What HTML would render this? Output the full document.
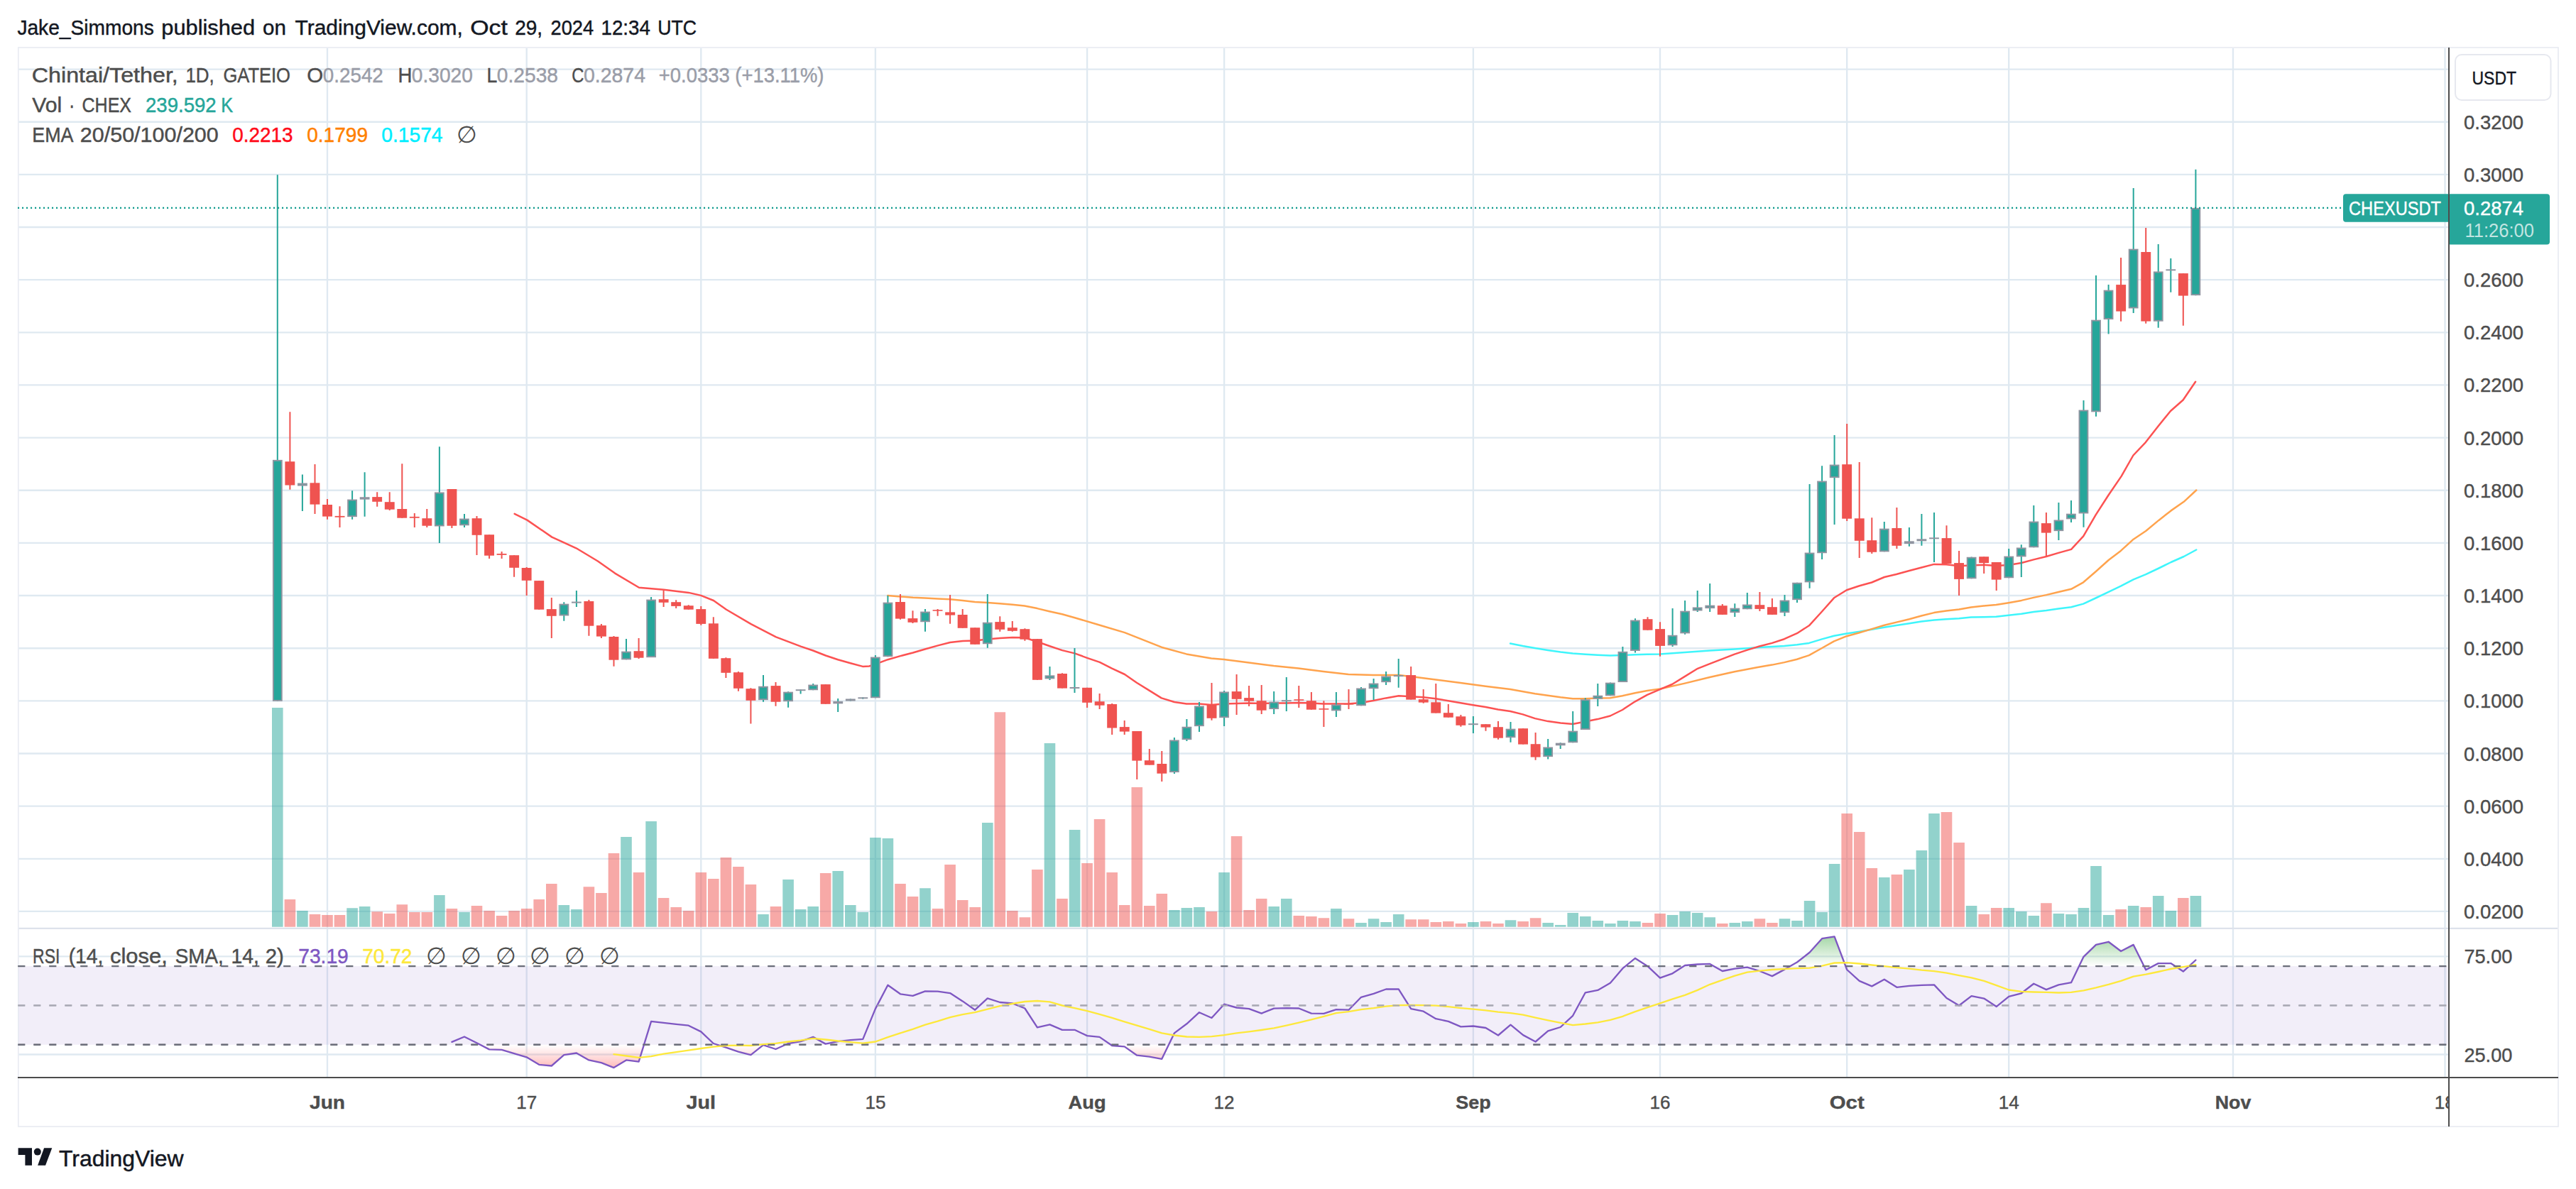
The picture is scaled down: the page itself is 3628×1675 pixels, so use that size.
<!DOCTYPE html>
<html lang="en"><head><meta charset="utf-8"><title>CHEXUSDT chart</title>
<style>
html,body{margin:0;padding:0;background:#fff;}
body{width:3628px;height:1675px;overflow:hidden;font-family:"Liberation Sans", sans-serif;}
svg{display:block}
text{font-family:"Liberation Sans", sans-serif;}
.ax{font-size:27px;fill:#4d4d4d;stroke:#4d4d4d;stroke-width:0.4px}
.lg{font-size:27.5px;fill:#4d4d4d}
</style></head><body>
<svg width="3628" height="1675" viewBox="0 0 3628 1675">
<rect width="3628" height="1675" fill="#fff"/>

<text y="49" font-size="30" fill="#131722" stroke="#131722" stroke-width="0.45"><tspan x="24.4" textLength="192.4" lengthAdjust="spacingAndGlyphs">Jake_Simmons</tspan> <tspan x="227.3" textLength="131.8" lengthAdjust="spacingAndGlyphs">published</tspan> <tspan x="370.1" textLength="32.9" lengthAdjust="spacingAndGlyphs">on</tspan> <tspan x="415.5" textLength="236.3" lengthAdjust="spacingAndGlyphs">TradingView.com,</tspan> <tspan x="662.2" textLength="52.6" lengthAdjust="spacingAndGlyphs">Oct</tspan> <tspan x="725.2" textLength="38.9" lengthAdjust="spacingAndGlyphs">29,</tspan> <tspan x="775.5" textLength="60.6" lengthAdjust="spacingAndGlyphs">2024</tspan> <tspan x="846.5" textLength="69.3" lengthAdjust="spacingAndGlyphs">12:34</tspan> <tspan x="926.2" textLength="54.9" lengthAdjust="spacingAndGlyphs">UTC</tspan></text>
<rect x="25.8" y="67" width="3577.2" height="1520" fill="#fff" stroke="#e9ecf3" stroke-width="1.7"/>
<g stroke="#dfe9f1" stroke-width="2.35" fill="none">
<path d="M26.5 97.6H3448"/>
<path d="M26.5 171.7H3448"/>
<path d="M26.5 245.8H3448"/>
<path d="M26.5 320.0H3448"/>
<path d="M26.5 394.1H3448"/>
<path d="M26.5 468.3H3448"/>
<path d="M26.5 542.4H3448"/>
<path d="M26.5 616.6H3448"/>
<path d="M26.5 690.7H3448"/>
<path d="M26.5 764.9H3448"/>
<path d="M26.5 839.0H3448"/>
<path d="M26.5 913.2H3448"/>
<path d="M26.5 987.3H3448"/>
<path d="M26.5 1061.5H3448"/>
<path d="M26.5 1135.6H3448"/>
<path d="M26.5 1209.8H3448"/>
<path d="M26.5 1283.9H3448"/>
<path d="M26.5 1347.3H3448"/>
<path d="M26.5 1485.5H3448"/>
<path d="M461.0 68V1517"/>
<path d="M741.7 68V1517"/>
<path d="M987.3 68V1517"/>
<path d="M1232.9 68V1517"/>
<path d="M1531.1 68V1517"/>
<path d="M1724.1 68V1517"/>
<path d="M2074.9 68V1517"/>
<path d="M2338.0 68V1517"/>
<path d="M2601.2 68V1517"/>
<path d="M2829.2 68V1517"/>
<path d="M3145.0 68V1517"/>
<path d="M3443.5 68V1517"/>
</g>
<path d="M26.5 1307.9H3602" stroke="#dde2eb" stroke-width="2.4"/>
<defs><linearGradient id="gob" gradientUnits="userSpaceOnUse" x1="0" y1="1361.1" x2="0" y2="1278.2"><stop offset="0" stop-color="#4caf50" stop-opacity="0"/><stop offset="1" stop-color="#4caf50" stop-opacity="1"/></linearGradient><linearGradient id="gos" gradientUnits="userSpaceOnUse" x1="0" y1="1471.7" x2="0" y2="1554.7"><stop offset="0" stop-color="#ff5252" stop-opacity="0"/><stop offset="1" stop-color="#ff5252" stop-opacity="1"/></linearGradient><clipPath id="cob"><rect x="25" y="1309" width="3421" height="52.1"/></clipPath><clipPath id="cos"><rect x="25" y="1471.7" width="3421" height="45.3"/></clipPath></defs>
<rect x="26.5" y="1361.1" width="3421" height="110.6" fill="#7e57c2" fill-opacity="0.1"/>
<path d="M636.4 1467.9L654 1460.5L671.5 1469.2L689.1 1478.4L706.6 1478.8L724.1 1484.1L741.7 1489.3L759.2 1499.8L776.8 1501.5L794.3 1486.1L811.9 1483.5L829.4 1493.4L846.9 1497.2L864.5 1504.1L882 1493.4L899.6 1495.6L917.1 1438.9L934.6 1440.9L952.2 1442.9L969.7 1444.7L987.3 1453.4L1004.8 1470L1022.4 1475.6L1039.9 1481.7L1057.4 1486.1L1075 1472.2L1092.5 1478L1110.1 1470L1127.6 1467.1L1145.2 1460.9L1162.7 1470.6L1180.2 1467.1L1197.8 1465.1L1215.3 1463.9L1232.9 1421.1L1250.4 1387.8L1268 1400.3L1285.5 1402.9L1303 1396.3L1320.6 1396.7L1338.1 1399.1L1355.7 1410.4L1373.2 1422.7L1390.8 1406.4L1408.3 1412L1425.8 1413.4L1443.4 1420.5L1460.9 1447.4L1478.5 1443.3L1496 1450.8L1513.5 1450.8L1531.1 1459.1L1548.6 1460.9L1566.2 1473L1583.7 1474.4L1601.3 1486.7L1618.8 1488.7L1636.3 1491.8L1653.9 1455.4L1671.4 1442.3L1689 1426.2L1706.5 1434L1724.1 1414.7L1741.6 1419.5L1759.1 1421.1L1776.7 1427.6L1794.2 1420.7L1811.8 1420.1L1829.3 1420.5L1846.9 1427.6L1864.4 1427.8L1881.9 1422.1L1899.5 1422.7L1917 1404.8L1934.6 1399.9L1952.1 1393.5L1969.7 1393.3L1987.2 1421.1L2004.7 1424.7L2022.3 1435.2L2039.8 1438.9L2057.4 1446.3L2074.9 1445.5L2092.5 1448L2110 1458.5L2127.5 1443.7L2145.1 1458.1L2162.6 1467.5L2180.2 1452.4L2197.7 1447L2215.2 1430.8L2232.8 1398.3L2250.3 1394.9L2267.9 1384.8L2285.4 1364.2L2303 1349.9L2320.5 1361.2L2338 1377.7L2355.6 1371.3L2373.1 1360L2390.7 1358.5L2408.2 1357.9L2425.8 1368L2443.3 1364.6L2460.8 1362.6L2478.4 1368L2495.9 1375.1L2513.5 1365.6L2531 1355.5L2548.6 1341.8L2566.1 1322.2L2583.6 1319.4L2601.2 1366L2618.7 1381.8L2636.3 1389.4L2653.8 1379.7L2671.4 1390.8L2688.9 1388.8L2706.4 1387.8L2724 1387.4L2741.5 1406L2759.1 1416.5L2776.6 1403.1L2794.2 1406.6L2811.7 1418.1L2829.2 1403.8L2846.8 1399.3L2864.3 1385.8L2881.9 1394.1L2899.4 1387.4L2917 1384.2L2934.5 1347.8L2952 1330.9L2969.6 1326.8L2987.1 1340L3004.7 1330.9L3022.2 1366.2L3039.7 1357.1L3057.3 1357.1L3074.8 1368.6L3092.4 1352.5L3092.4 1361.1L636.4 1361.1z" fill="url(#gob)" clip-path="url(#cob)"/>
<path d="M636.4 1467.9L654 1460.5L671.5 1469.2L689.1 1478.4L706.6 1478.8L724.1 1484.1L741.7 1489.3L759.2 1499.8L776.8 1501.5L794.3 1486.1L811.9 1483.5L829.4 1493.4L846.9 1497.2L864.5 1504.1L882 1493.4L899.6 1495.6L917.1 1438.9L934.6 1440.9L952.2 1442.9L969.7 1444.7L987.3 1453.4L1004.8 1470L1022.4 1475.6L1039.9 1481.7L1057.4 1486.1L1075 1472.2L1092.5 1478L1110.1 1470L1127.6 1467.1L1145.2 1460.9L1162.7 1470.6L1180.2 1467.1L1197.8 1465.1L1215.3 1463.9L1232.9 1421.1L1250.4 1387.8L1268 1400.3L1285.5 1402.9L1303 1396.3L1320.6 1396.7L1338.1 1399.1L1355.7 1410.4L1373.2 1422.7L1390.8 1406.4L1408.3 1412L1425.8 1413.4L1443.4 1420.5L1460.9 1447.4L1478.5 1443.3L1496 1450.8L1513.5 1450.8L1531.1 1459.1L1548.6 1460.9L1566.2 1473L1583.7 1474.4L1601.3 1486.7L1618.8 1488.7L1636.3 1491.8L1653.9 1455.4L1671.4 1442.3L1689 1426.2L1706.5 1434L1724.1 1414.7L1741.6 1419.5L1759.1 1421.1L1776.7 1427.6L1794.2 1420.7L1811.8 1420.1L1829.3 1420.5L1846.9 1427.6L1864.4 1427.8L1881.9 1422.1L1899.5 1422.7L1917 1404.8L1934.6 1399.9L1952.1 1393.5L1969.7 1393.3L1987.2 1421.1L2004.7 1424.7L2022.3 1435.2L2039.8 1438.9L2057.4 1446.3L2074.9 1445.5L2092.5 1448L2110 1458.5L2127.5 1443.7L2145.1 1458.1L2162.6 1467.5L2180.2 1452.4L2197.7 1447L2215.2 1430.8L2232.8 1398.3L2250.3 1394.9L2267.9 1384.8L2285.4 1364.2L2303 1349.9L2320.5 1361.2L2338 1377.7L2355.6 1371.3L2373.1 1360L2390.7 1358.5L2408.2 1357.9L2425.8 1368L2443.3 1364.6L2460.8 1362.6L2478.4 1368L2495.9 1375.1L2513.5 1365.6L2531 1355.5L2548.6 1341.8L2566.1 1322.2L2583.6 1319.4L2601.2 1366L2618.7 1381.8L2636.3 1389.4L2653.8 1379.7L2671.4 1390.8L2688.9 1388.8L2706.4 1387.8L2724 1387.4L2741.5 1406L2759.1 1416.5L2776.6 1403.1L2794.2 1406.6L2811.7 1418.1L2829.2 1403.8L2846.8 1399.3L2864.3 1385.8L2881.9 1394.1L2899.4 1387.4L2917 1384.2L2934.5 1347.8L2952 1330.9L2969.6 1326.8L2987.1 1340L3004.7 1330.9L3022.2 1366.2L3039.7 1357.1L3057.3 1357.1L3074.8 1368.6L3092.4 1352.5L3092.4 1471.7L636.4 1471.7z" fill="url(#gos)" clip-path="url(#cos)"/>
<g stroke-width="2.2" stroke-dasharray="10 12" fill="none"><path d="M25.4 1361.1H3446M25.4 1471.7H3446" stroke="#6e707a"/><path d="M25.4 1416.4H3446" stroke="#a9a9b4"/></g>
<g fill="none" stroke-width="2.35" stroke-linejoin="round" stroke-linecap="round"><path d="M636.4 1467.9L654 1460.5L671.5 1469.2L689.1 1478.4L706.6 1478.8L724.1 1484.1L741.7 1489.3L759.2 1499.8L776.8 1501.5L794.3 1486.1L811.9 1483.5L829.4 1493.4L846.9 1497.2L864.5 1504.1L882 1493.4L899.6 1495.6L917.1 1438.9L934.6 1440.9L952.2 1442.9L969.7 1444.7L987.3 1453.4L1004.8 1470L1022.4 1475.6L1039.9 1481.7L1057.4 1486.1L1075 1472.2L1092.5 1478L1110.1 1470L1127.6 1467.1L1145.2 1460.9L1162.7 1470.6L1180.2 1467.1L1197.8 1465.1L1215.3 1463.9L1232.9 1421.1L1250.4 1387.8L1268 1400.3L1285.5 1402.9L1303 1396.3L1320.6 1396.7L1338.1 1399.1L1355.7 1410.4L1373.2 1422.7L1390.8 1406.4L1408.3 1412L1425.8 1413.4L1443.4 1420.5L1460.9 1447.4L1478.5 1443.3L1496 1450.8L1513.5 1450.8L1531.1 1459.1L1548.6 1460.9L1566.2 1473L1583.7 1474.4L1601.3 1486.7L1618.8 1488.7L1636.3 1491.8L1653.9 1455.4L1671.4 1442.3L1689 1426.2L1706.5 1434L1724.1 1414.7L1741.6 1419.5L1759.1 1421.1L1776.7 1427.6L1794.2 1420.7L1811.8 1420.1L1829.3 1420.5L1846.9 1427.6L1864.4 1427.8L1881.9 1422.1L1899.5 1422.7L1917 1404.8L1934.6 1399.9L1952.1 1393.5L1969.7 1393.3L1987.2 1421.1L2004.7 1424.7L2022.3 1435.2L2039.8 1438.9L2057.4 1446.3L2074.9 1445.5L2092.5 1448L2110 1458.5L2127.5 1443.7L2145.1 1458.1L2162.6 1467.5L2180.2 1452.4L2197.7 1447L2215.2 1430.8L2232.8 1398.3L2250.3 1394.9L2267.9 1384.8L2285.4 1364.2L2303 1349.9L2320.5 1361.2L2338 1377.7L2355.6 1371.3L2373.1 1360L2390.7 1358.5L2408.2 1357.9L2425.8 1368L2443.3 1364.6L2460.8 1362.6L2478.4 1368L2495.9 1375.1L2513.5 1365.6L2531 1355.5L2548.6 1341.8L2566.1 1322.2L2583.6 1319.4L2601.2 1366L2618.7 1381.8L2636.3 1389.4L2653.8 1379.7L2671.4 1390.8L2688.9 1388.8L2706.4 1387.8L2724 1387.4L2741.5 1406L2759.1 1416.5L2776.6 1403.1L2794.2 1406.6L2811.7 1418.1L2829.2 1403.8L2846.8 1399.3L2864.3 1385.8L2881.9 1394.1L2899.4 1387.4L2917 1384.2L2934.5 1347.8L2952 1330.9L2969.6 1326.8L2987.1 1340L3004.7 1330.9L3022.2 1366.2L3039.7 1357.1L3057.3 1357.1L3074.8 1368.6L3092.4 1352.5" stroke="#7e57c2"/><path d="M864.5 1485.1L882 1487.5L899.6 1489.9L917.1 1488.1L934.6 1484.7L952.2 1482.1L969.7 1479.7L987.3 1477L1004.8 1474.6L1022.4 1473L1039.9 1472.6L1057.4 1473L1075 1471.2L1092.5 1469.8L1110.1 1467.5L1127.6 1465.7L1145.2 1462.9L1162.7 1464.5L1180.2 1466.5L1197.8 1468.1L1215.3 1469.6L1232.9 1467.5L1250.4 1461.1L1268 1455.4L1285.5 1449.8L1303 1443.7L1320.6 1438.7L1338.1 1433.2L1355.7 1429.2L1373.2 1426.2L1390.8 1421.7L1408.3 1417.1L1425.8 1414L1443.4 1411L1460.9 1410L1478.5 1411.4L1496 1416.5L1513.5 1420.1L1531.1 1424.1L1548.6 1428.8L1566.2 1433.8L1583.7 1439.3L1601.3 1444.7L1618.8 1449.8L1636.3 1455.4L1653.9 1458.5L1671.4 1460.5L1689 1460.9L1706.5 1460.1L1724.1 1458.1L1741.6 1455.4L1759.1 1453.4L1776.7 1451L1794.2 1448.4L1811.8 1444.7L1829.3 1440.7L1846.9 1436.3L1864.4 1431.8L1881.9 1427.2L1899.5 1425.2L1917 1422.1L1934.6 1420.1L1952.1 1417.7L1969.7 1416.1L1987.2 1415.9L2004.7 1416.1L2022.3 1416.7L2039.8 1418.1L2057.4 1420.1L2074.9 1421.7L2092.5 1423.3L2110 1425.6L2127.5 1427.2L2145.1 1429.6L2162.6 1433.6L2180.2 1437.3L2197.7 1440.9L2215.2 1444.1L2232.8 1442.5L2250.3 1440.3L2267.9 1436.9L2285.4 1431.8L2303 1425.2L2320.5 1419.1L2338 1413.4L2355.6 1407.4L2373.1 1401.9L2390.7 1394.9L2408.2 1386.8L2425.8 1380.7L2443.3 1374.7L2460.8 1369.6L2478.4 1367.6L2495.9 1366L2513.5 1365L2531 1364.2L2548.6 1363.6L2566.1 1360.6L2583.6 1356.5L2601.2 1356.1L2618.7 1357.5L2636.3 1359.5L2653.8 1361.2L2671.4 1363.2L2688.9 1364.6L2706.4 1366.6L2724 1368.2L2741.5 1370.6L2759.1 1374.1L2776.6 1377.3L2794.2 1381.8L2811.7 1388.2L2829.2 1394.5L2846.8 1396.9L2864.3 1397.5L2881.9 1397.9L2899.4 1398.5L2917 1397.9L2934.5 1395.3L2952 1391.4L2969.6 1386.8L2987.1 1381.8L3004.7 1375.7L3022.2 1372.7L3039.7 1369L3057.3 1365L3074.8 1362.2L3092.4 1359.1" stroke="#fde83b"/></g>
<g stroke-width="2" stroke-dasharray="9.6 12.4" fill="none"><path d="M25.4 1361.1H3446M25.4 1471.7H3446" stroke="#6a6d79"/><path d="M25.4 1416.4H3446" stroke="#a9a9b4"/></g>
<path d="M383 997.1h15.6V1305.7h-15.6zM418.1 1283.1h15.6V1305.7h-15.6zM488.3 1279.2h15.6V1305.7h-15.6zM505.8 1277h15.6V1305.7h-15.6zM611.1 1261.1h15.6V1305.7h-15.6zM646.2 1285.1h15.6V1305.7h-15.6zM786.5 1275h15.6V1305.7h-15.6zM804.1 1281h15.6V1305.7h-15.6zM874.2 1178.9h15.6V1305.7h-15.6zM909.3 1156.9h15.6V1305.7h-15.6zM1067.2 1288.1h15.6V1305.7h-15.6zM1102.3 1239.1h15.6V1305.7h-15.6zM1119.8 1281h15.6V1305.7h-15.6zM1137.4 1277h15.6V1305.7h-15.6zM1172.4 1227h15.6V1305.7h-15.6zM1190 1275h15.6V1305.7h-15.6zM1207.5 1285.1h15.6V1305.7h-15.6zM1225.1 1180.1h15.6V1305.7h-15.6zM1242.6 1181.1h15.6V1305.7h-15.6zM1295.2 1251.2h15.6V1305.7h-15.6zM1383 1158.9h15.6V1305.7h-15.6zM1470.7 1046.9h15.6V1305.7h-15.6zM1505.8 1169h15.6V1305.7h-15.6zM1646.1 1282.1h15.6V1305.7h-15.6zM1663.6 1279h15.6V1305.7h-15.6zM1681.2 1278h15.6V1305.7h-15.6zM1716.3 1229h15.6V1305.7h-15.6zM1786.4 1277h15.6V1305.7h-15.6zM1804 1266.1h15.6V1305.7h-15.6zM1874.1 1280h15.6V1305.7h-15.6zM1909.2 1300h15.6V1305.7h-15.6zM1926.8 1294.2h15.6V1305.7h-15.6zM1944.3 1299h15.6V1305.7h-15.6zM1961.9 1288.1h15.6V1305.7h-15.6zM2067.1 1299h15.6V1305.7h-15.6zM2119.7 1296.2h15.6V1305.7h-15.6zM2172.4 1300h15.6V1305.7h-15.6zM2189.9 1303.1h15.6V1305.7h-15.6zM2207.4 1286.1h15.6V1305.7h-15.6zM2225 1291.1h15.6V1305.7h-15.6zM2242.5 1297h15.6V1305.7h-15.6zM2260.1 1301h15.6V1305.7h-15.6zM2277.6 1297h15.6V1305.7h-15.6zM2295.2 1298h15.6V1305.7h-15.6zM2347.8 1289.1h15.6V1305.7h-15.6zM2365.3 1284.1h15.6V1305.7h-15.6zM2382.9 1286.1h15.6V1305.7h-15.6zM2400.4 1292.2h15.6V1305.7h-15.6zM2435.5 1300h15.6V1305.7h-15.6zM2453 1298h15.6V1305.7h-15.6zM2505.7 1294.2h15.6V1305.7h-15.6zM2523.2 1297h15.6V1305.7h-15.6zM2540.8 1269.1h15.6V1305.7h-15.6zM2558.3 1285.1h15.6V1305.7h-15.6zM2575.8 1217.1h15.6V1305.7h-15.6zM2646 1236h15.6V1305.7h-15.6zM2681.1 1224.9h15.6V1305.7h-15.6zM2698.6 1198.1h15.6V1305.7h-15.6zM2716.2 1146h15.6V1305.7h-15.6zM2768.8 1276h15.6V1305.7h-15.6zM2821.4 1279h15.6V1305.7h-15.6zM2839 1284.1h15.6V1305.7h-15.6zM2856.5 1290.1h15.6V1305.7h-15.6zM2891.6 1287.1h15.6V1305.7h-15.6zM2909.2 1288.1h15.6V1305.7h-15.6zM2926.7 1279h15.6V1305.7h-15.6zM2944.2 1220.1h15.6V1305.7h-15.6zM2961.8 1289.1h15.6V1305.7h-15.6zM2996.9 1276h15.6V1305.7h-15.6zM3031.9 1262.1h15.6V1305.7h-15.6zM3049.5 1283.1h15.6V1305.7h-15.6zM3084.6 1262.1h15.6V1305.7h-15.6z" fill="#26a69a" fill-opacity="0.5"/>
<path d="M400.6 1267.1h15.6V1305.7h-15.6zM435.7 1287.9h15.6V1305.7h-15.6zM453.2 1289.1h15.6V1305.7h-15.6zM470.7 1289.1h15.6V1305.7h-15.6zM523.4 1284.3h15.6V1305.7h-15.6zM540.9 1287.1h15.6V1305.7h-15.6zM558.5 1274.2h15.6V1305.7h-15.6zM576 1285.1h15.6V1305.7h-15.6zM593.5 1285.1h15.6V1305.7h-15.6zM628.6 1280h15.6V1305.7h-15.6zM663.7 1276h15.6V1305.7h-15.6zM681.3 1283.1h15.6V1305.7h-15.6zM698.8 1290.1h15.6V1305.7h-15.6zM716.3 1283.1h15.6V1305.7h-15.6zM733.9 1280h15.6V1305.7h-15.6zM751.4 1267.1h15.6V1305.7h-15.6zM769 1245.1h15.6V1305.7h-15.6zM821.6 1249.2h15.6V1305.7h-15.6zM839.1 1258h15.6V1305.7h-15.6zM856.7 1202.1h15.6V1305.7h-15.6zM891.8 1229h15.6V1305.7h-15.6zM926.8 1265.1h15.6V1305.7h-15.6zM944.4 1278h15.6V1305.7h-15.6zM961.9 1283.1h15.6V1305.7h-15.6zM979.5 1229h15.6V1305.7h-15.6zM997 1238.1h15.6V1305.7h-15.6zM1014.6 1208h15.6V1305.7h-15.6zM1032.1 1221.1h15.6V1305.7h-15.6zM1049.6 1246.1h15.6V1305.7h-15.6zM1084.7 1277h15.6V1305.7h-15.6zM1154.9 1230h15.6V1305.7h-15.6zM1260.2 1245.1h15.6V1305.7h-15.6zM1277.7 1263.1h15.6V1305.7h-15.6zM1312.8 1280h15.6V1305.7h-15.6zM1330.3 1218.1h15.6V1305.7h-15.6zM1347.9 1268.1h15.6V1305.7h-15.6zM1365.4 1278h15.6V1305.7h-15.6zM1400.5 1003.3h15.6V1305.7h-15.6zM1418 1283.1h15.6V1305.7h-15.6zM1435.6 1292.2h15.6V1305.7h-15.6zM1453.1 1224.9h15.6V1305.7h-15.6zM1488.2 1266.1h15.6V1305.7h-15.6zM1523.3 1216.1h15.6V1305.7h-15.6zM1540.8 1154.1h15.6V1305.7h-15.6zM1558.4 1229h15.6V1305.7h-15.6zM1575.9 1275h15.6V1305.7h-15.6zM1593.5 1109.1h15.6V1305.7h-15.6zM1611 1276h15.6V1305.7h-15.6zM1628.5 1259h15.6V1305.7h-15.6zM1698.7 1284.1h15.6V1305.7h-15.6zM1733.8 1178.1h15.6V1305.7h-15.6zM1751.3 1282.1h15.6V1305.7h-15.6zM1768.9 1266.1h15.6V1305.7h-15.6zM1821.5 1290.1h15.6V1305.7h-15.6zM1839.1 1291.1h15.6V1305.7h-15.6zM1856.6 1293.2h15.6V1305.7h-15.6zM1891.7 1294.2h15.6V1305.7h-15.6zM1979.4 1295.2h15.6V1305.7h-15.6zM1996.9 1295.2h15.6V1305.7h-15.6zM2014.5 1299h15.6V1305.7h-15.6zM2032 1298h15.6V1305.7h-15.6zM2049.6 1301h15.6V1305.7h-15.6zM2084.7 1298h15.6V1305.7h-15.6zM2102.2 1301h15.6V1305.7h-15.6zM2137.3 1298h15.6V1305.7h-15.6zM2154.8 1293.2h15.6V1305.7h-15.6zM2312.7 1300h15.6V1305.7h-15.6zM2330.2 1287.1h15.6V1305.7h-15.6zM2418 1301h15.6V1305.7h-15.6zM2470.6 1294.2h15.6V1305.7h-15.6zM2488.1 1300h15.6V1305.7h-15.6zM2593.4 1146h15.6V1305.7h-15.6zM2610.9 1172h15.6V1305.7h-15.6zM2628.5 1223.1h15.6V1305.7h-15.6zM2663.6 1232h15.6V1305.7h-15.6zM2733.7 1144h15.6V1305.7h-15.6zM2751.3 1187h15.6V1305.7h-15.6zM2786.4 1288.1h15.6V1305.7h-15.6zM2803.9 1279h15.6V1305.7h-15.6zM2874.1 1272.2h15.6V1305.7h-15.6zM2979.3 1281h15.6V1305.7h-15.6zM3014.4 1278h15.6V1305.7h-15.6zM3067 1265.1h15.6V1305.7h-15.6z" fill="#ef5350" fill-opacity="0.5"/>
<g fill="none" stroke-width="2.5" stroke-linejoin="round" stroke-linecap="round">
<path d="M2127.1 906.5L2144.7 910L2161.9 913L2180 916L2197.8 918.6L2215.1 920.4L2232.9 921.7L2250.1 922.7L2267.8 923.5L2285 923.1L2302.8 922.3L2319.9 921.7L2337.7 921.4L2372.9 919L2408 916.4L2442.9 914.4L2477.8 911.9L2513 909.9L2530.9 908.3L2547.9 905.9L2566 900.4L2583 895.8L2600.8 892.4L2618.9 889.7L2636.1 886.7L2653.9 883.7L2670.8 881.1L2689 878.2L2706.1 875.6L2723.9 873.6L2741.1 872.2L2759 871.2L2776 869.6L2793.7 869.3L2811.3 868.7L2828.8 866.7L2847 864.7L2864 862.1L2881.9 860.1L2899.1 857.6L2917.1 855.2L2934.2 850.6L2951.6 842.5L2969.7 833.8L2986.9 825.7L3004.7 816.3L3022.2 809.2L3040.4 800.5L3057.6 792L3075.7 784L3093.3 774.5" stroke="#3ff5fb"/>
<path d="M1250.3 839L1268.1 840.4L1285.8 841.8L1302.8 842.6L1321 843.4L1338.1 844.2L1355.9 846L1373 848L1391 849.1L1408 850.3L1425.9 851.7L1442.9 853.5L1460.8 857.1L1477.8 861.2L1496 865.2L1513.7 870.2L1546.6 880L1584 891.1L1635.8 911.7L1671 921.4L1706.1 927.4L1724 929.1L1759 933.5L1793.9 938.1L1828.8 941.6L1863.9 946L1899.1 950L1934.2 951.1L1969.9 951.1L1987 952.9L2022.2 957.4L2057.1 962L2092.2 966.7L2127.1 971.1L2161.9 977.2L2197.8 982.2L2215.1 984.2L2232.9 984.2L2250.1 983.6L2267.8 983.2L2285 980.2L2302.8 976.2L2319.9 973.1L2337.9 970.5L2373 962.6L2408.1 954L2442.8 946.3L2475.6 940L2495.8 936.6L2513 933.1L2530.9 928.7L2547.9 923.1L2566 913L2583 903.3L2600.8 896.2L2618.9 891.2L2636.1 886.1L2653.9 880.7L2670.8 876.6L2689 872.2L2706.1 867.5L2723.9 863.1L2741.1 860.5L2759 858.5L2776 855.4L2793.7 853.6L2811.3 852L2828.8 849.2L2847 845.9L2864 841.9L2881.9 838.1L2899.1 834L2917.1 829.8L2934.2 820.3L2951.6 805.2L2969.7 789L2986.9 775.9L3004.7 759.7L3022.2 748L3040.4 732.9L3057.6 719.4L3075.7 706.8L3093.3 690.5" stroke="#ffa34d"/>
<path d="M724.7 723.9L742.4 732.6L777.3 756.6L811.6 772.3L841.9 790.5L866.1 807.6L900 827.8L935.1 830.8L970 834.9L987.2 838.9L1005 846L1022.6 858.5L1057.7 879.1L1092.9 897.3L1127.8 910.6L1145.1 916.5L1162.9 923.5L1180.1 929.2L1197.8 934.2L1215 938.9L1224.1 938.5L1233.1 935.6L1250.3 929.2L1268.1 924.1L1285.8 919.5L1302.8 914.5L1321 909.4L1338.1 905L1355.9 902.9L1373 902.5L1391 900.5L1408 898.9L1425.9 897.9L1442.9 898.3L1460.8 904L1477.8 910L1496 916.1L1513.5 920.4L1531.1 926.8L1548.8 932.9L1566 941.6L1584 950L1600.9 961.8L1618.9 972.9L1635.8 983.4L1654 989L1671 991.6L1688.9 991.6L1706.1 993L1724 991.6L1742 991L1759 990.6L1776.9 991L1793.9 990.6L1811.9 990.4L1828.8 990L1846.8 990.6L1863.9 991.6L1881.9 991.6L1899.1 991.6L1917 990L1934.2 987L1951.9 983.4L1969.9 980.3L1987 981.2L2004.6 982.2L2022.2 984.2L2039.7 987.3L2057.1 990.3L2074.7 993.3L2092.2 995.9L2109.8 999.4L2127.1 1002L2144.7 1006.4L2161.9 1012.1L2180 1016.1L2197.8 1018.6L2215.1 1020L2232.9 1016.5L2250.1 1013.1L2267.8 1008.5L2285 1000L2302.8 988.3L2319.9 978.8L2337.9 971.1L2355 964L2373 952.9L2391 941.8L2408 935.2L2442.9 921.6L2460.9 915.6L2477.8 910.5L2495.8 905.9L2513 900.2L2530.9 892.2L2547.9 881.3L2566 861.5L2583 842.3L2600.8 831.2L2618.9 825.2L2636.1 820.5L2653.9 813L2670.8 809L2689 804L2706.1 799.5L2723.9 794.9L2741.1 795.3L2759 797.3L2776 796.5L2793.7 795.7L2811.3 797.1L2828.8 796.1L2847 793L2864 788.4L2881.9 784L2899.1 778.9L2917.1 773.9L2934.2 755.3L2951.6 725.4L2969.7 697.2L2987.7 670.9L3004.4 641.5L3021.9 623.1L3039.5 600.5L3057 579L3074.6 563.5L3092.1 537.7" stroke="#fc5252"/>
</g>
<path d="M390.8 246.3V987.8M425.9 668.4V719.9M496.1 691.2V731.8M513.6 665.2V727.7M618.9 629.2V764.9M654 724.1V742.9M794.3 848.2V874.8M811.9 832V855.1M882 900.1V929.3M917.1 841.1V926.1M1075 951V988.7M1110.1 974.2V996.8M1127.6 971.2V977.6M1145.2 963.1V972.2M1180.2 984.1V1002.9M1197.8 984.5V987.5M1215.3 982.3V984.7M1232.9 923.1V983.3M1250.4 839V925.2M1303 858.1V889.8M1390.8 837.1V912.8M1478.5 939.1V957.9M1513.5 912.9V975.9M1653.9 1039.1V1089.9M1671.4 1013V1043.9M1689 989V1031M1724.1 973.1V1023.1M1794.2 974.1V1006M1811.8 954.1V1001.9M1881.9 975.1V1010M1917 968V994.3M1934.6 956.1V986M1952.1 946V965M1969.7 928.1V968.7M2074.9 1009.1V1033.1M2127.5 1017.1V1045.8M2180.2 1041V1069.6M2197.7 1046.2V1054.9M2215.2 1002V1046.2M2232.8 983.2V1028M2250.3 963V994.9M2267.9 961.6V980.2M2285.4 911V961M2303 871.2V919.6M2355.6 857V910.9M2373.1 846.1V893.8M2390.7 832V861.9M2408.2 822.1V861.9M2443.3 850.2V869M2460.8 835V858.3M2513.5 838.1V867.9M2531 820.7V849M2548.6 682V828.8M2566.1 656.2V788M2583.6 613V739M2653.8 735.1V777.3M2688.9 743V769.8M2706.4 724V768.8M2724 722V792M2776.6 784.4V815.3M2829.2 773.1V814.2M2846.8 767.2V813M2864.3 712.1V771.2M2899.4 708.1V760.9M2917 705V735.9M2934.5 564.1V742.8M2952 387.9V586.7M2969.6 401.1V470.6M3004.7 265V441M3039.7 344.1V461.8M3057.3 364.1V411.7M3092.4 238.8V416.2" stroke="#26a69a" stroke-width="2" fill="none"/>
<path d="M408.4 580.2V689.8M443.5 654.1V723.9M461 703.1V731.8M478.5 713.2V742.9M531.2 693.2V713.8M548.7 693.2V718.9M566.3 653.3V729.8M583.8 723.1V742.9M601.3 717V742.9M636.4 689V743.9M671.5 727.1V782M689.1 753.2V786.9M706.6 777V786.9M724.1 782.2V812.7M741.7 799.1V838.9M759.2 818.1V858.7M776.8 842.1V898.9M829.4 845V895.8M846.9 879.1V898.9M864.5 896V938.8M899.6 899.1V927.9M934.6 831.8V855.1M952.2 845.2V856.9M969.7 852.2V858.7M987.3 854V880.7M1004.8 869.2V927.7M1022.4 926.2V955M1039.9 946.1V973.8M1057.4 969.2V1019.6M1092.5 961.1V994.8M1162.7 964.1V991.8M1268 837.1V872.7M1285.5 860.2V877.9M1320.6 858.1V867.8M1338.1 837.9V878.7M1355.7 858.1V884.8M1373.2 884.2V907.8M1408.3 868.2V889.8M1425.8 875.1V889.8M1443.4 885.2V902.7M1460.9 900.1V957.9M1496 948.2V969.6M1531.1 968.8V996.9M1548.6 977.1V998.9M1566.2 991V1035M1583.7 1015V1035M1601.3 1030V1098M1618.8 1055V1077.6M1636.3 1058V1101M1706.5 962V1014.8M1741.6 950V1007M1759.1 966V995.1M1776.7 965V1006M1829.3 966V996.9M1846.9 975.1V999.7M1864.4 987.2V1023.9M1899.5 971V998.9M1987.2 939V985.6M2004.7 971.1V990.7M2022.3 963V1004.6M2039.8 992.1V1010.7M2057.4 1007V1023.8M2092.5 1020.2V1029.7M2110 1016.1V1041.8M2145.1 1026.2V1048.6M2162.6 1032.1V1070.8M2320.5 869.2V887.7M2338 876.2V924.7M2425.8 851V865.9M2478.4 834V861.1M2495.9 843.1V865.9M2601.2 597V733.9M2618.7 651.1V786M2636.3 729.3V779.9M2671.4 714.9V772.9M2741.5 740.2V794.1M2759.1 776.1V838.9M2794.2 784.2V808M2811.7 792V832M2881.9 722V782.9M2987.1 363.1V452.7M3022.2 321.1V455.8M3074.8 385.1V458.8" stroke="#ef5350" stroke-width="2" fill="none"/>
<g fill="#26a69a" stroke="#9094a0" stroke-width="1.9"><rect x="384.9" y="648.8" width="11.9" height="338.1"/><rect x="420" y="681.5" width="11.9" height="2.1"/><rect x="490.1" y="704.5" width="11.9" height="22.7"/><rect x="507.7" y="701.2" width="11.9" height="1.5"/><rect x="612.9" y="694.4" width="11.9" height="46.1"/><rect x="648" y="731.5" width="11.9" height="7.8"/><rect x="788.4" y="851.6" width="11.9" height="14.9"/><rect x="876.1" y="918.6" width="11.9" height="9.8"/><rect x="911.2" y="845.5" width="11.9" height="79.7"/><rect x="1069" y="967.7" width="11.9" height="17.5"/><rect x="1104.1" y="975.6" width="11.9" height="11.6"/><rect x="1139.2" y="965.5" width="11.9" height="5.8"/><rect x="1174.3" y="988.9" width="11.9" height="1.5"/><rect x="1226.9" y="926.5" width="11.9" height="55.8"/><rect x="1244.5" y="849.6" width="11.9" height="74.6"/><rect x="1297.1" y="862.5" width="11.9" height="12.8"/><rect x="1384.8" y="877.7" width="11.9" height="28.6"/><rect x="1472.5" y="952.3" width="11.9" height="3.1"/><rect x="1647.9" y="1043.4" width="11.9" height="43.7"/><rect x="1665.5" y="1024.7" width="11.9" height="16.5"/><rect x="1683" y="995.4" width="11.9" height="26.8"/><rect x="1718.1" y="975.4" width="11.9" height="34.8"/><rect x="1788.3" y="989.5" width="11.9" height="8.6"/><rect x="1876" y="993.4" width="11.9" height="7"/><rect x="1911.1" y="970.4" width="11.9" height="22.9"/><rect x="1928.6" y="963.5" width="11.9" height="5.8"/><rect x="1946.2" y="953.4" width="11.9" height="6.8"/><rect x="2121.6" y="1027.6" width="11.9" height="10.6"/><rect x="2174.2" y="1053.4" width="11.9" height="11.8"/><rect x="2191.8" y="1047.6" width="11.9" height="1.7"/><rect x="2209.3" y="1030.6" width="11.9" height="14.7"/><rect x="2226.8" y="986.2" width="11.9" height="40.9"/><rect x="2244.4" y="980.7" width="11.9" height="3.1"/><rect x="2261.9" y="962.6" width="11.9" height="16.7"/><rect x="2279.5" y="918.8" width="11.9" height="41.3"/><rect x="2297" y="874.5" width="11.9" height="41.5"/><rect x="2349.6" y="895.7" width="11.9" height="12.6"/><rect x="2367.2" y="861.6" width="11.9" height="29.8"/><rect x="2384.7" y="856.4" width="11.9" height="3.1"/><rect x="2402.3" y="853.6" width="11.9" height="2.5"/><rect x="2437.4" y="857.6" width="11.9" height="4.6"/><rect x="2454.9" y="852.5" width="11.9" height="4.8"/><rect x="2507.5" y="846.5" width="11.9" height="15.7"/><rect x="2525.1" y="821.7" width="11.9" height="22.5"/><rect x="2542.6" y="779.5" width="11.9" height="39.9"/><rect x="2560.1" y="678.5" width="11.9" height="99.8"/><rect x="2577.7" y="655.5" width="11.9" height="16.7"/><rect x="2647.9" y="745.6" width="11.9" height="30.8"/><rect x="2682.9" y="763.3" width="11.9" height="1.9"/><rect x="2770.7" y="785.7" width="11.9" height="28.6"/><rect x="2823.3" y="784.5" width="11.9" height="28.8"/><rect x="2840.8" y="772.4" width="11.9" height="11"/><rect x="2858.4" y="735.5" width="11.9" height="34.8"/><rect x="2893.5" y="733.4" width="11.9" height="13.8"/><rect x="2911" y="724.6" width="11.9" height="5.8"/><rect x="2928.5" y="578.5" width="11.9" height="144"/><rect x="2946.1" y="451.6" width="11.9" height="127.8"/><rect x="2963.6" y="409.6" width="11.9" height="39.5"/><rect x="2998.7" y="351.6" width="11.9" height="81.9"/><rect x="3033.8" y="383.4" width="11.9" height="68.4"/><rect x="3086.4" y="293.8" width="11.9" height="121.4"/></g>
<g fill="#ef5350"><rect x="401.4" y="650.2" width="13.9" height="33.3"/><rect x="436.5" y="680.3" width="13.9" height="30.3"/><rect x="454.1" y="711" width="13.9" height="16.6"/><rect x="471.6" y="726.9" width="13.9" height="1.8"/><rect x="524.2" y="700.1" width="13.9" height="6.7"/><rect x="541.8" y="707.2" width="13.9" height="10.5"/><rect x="559.3" y="717" width="13.9" height="12.7"/><rect x="576.8" y="727.9" width="13.9" height="1.8"/><rect x="594.4" y="730.2" width="13.9" height="10.5"/><rect x="629.5" y="689" width="13.9" height="51.7"/><rect x="664.6" y="730.2" width="13.9" height="23.6"/><rect x="682.1" y="753.2" width="13.9" height="29.5"/><rect x="699.6" y="780" width="13.9" height="1.8"/><rect x="717.2" y="782.2" width="13.9" height="17.6"/><rect x="734.7" y="800" width="13.9" height="17.8"/><rect x="752.3" y="818.1" width="13.9" height="40.6"/><rect x="769.8" y="858.1" width="13.9" height="9.7"/><rect x="822.4" y="847" width="13.9" height="34.7"/><rect x="840" y="881.1" width="13.9" height="15.5"/><rect x="857.5" y="897" width="13.9" height="32.7"/><rect x="892.6" y="917.2" width="13.9" height="9.5"/><rect x="927.7" y="844.2" width="13.9" height="4.6"/><rect x="945.2" y="848.2" width="13.9" height="5.7"/><rect x="962.8" y="853.2" width="13.9" height="5.5"/><rect x="980.3" y="858.1" width="13.9" height="20.8"/><rect x="997.9" y="878.3" width="13.9" height="49.5"/><rect x="1015.4" y="927.2" width="13.9" height="20.6"/><rect x="1033" y="947.2" width="13.9" height="22.6"/><rect x="1050.5" y="970.2" width="13.9" height="16.6"/><rect x="1085.6" y="966.1" width="13.9" height="22.6"/><rect x="1155.8" y="964.1" width="13.9" height="27.7"/><rect x="1261" y="848" width="13.9" height="23.6"/><rect x="1278.5" y="871.1" width="13.9" height="5.7"/><rect x="1313.6" y="859.1" width="13.9" height="1.6"/><rect x="1331.2" y="862.4" width="13.9" height="4.2"/><rect x="1348.7" y="866" width="13.9" height="18.8"/><rect x="1366.3" y="884.2" width="13.9" height="23.6"/><rect x="1401.3" y="876.1" width="13.9" height="10.7"/><rect x="1418.9" y="884.2" width="13.9" height="4.6"/><rect x="1436.4" y="886.2" width="13.9" height="14.5"/><rect x="1454" y="900.1" width="13.9" height="57.7"/><rect x="1489.1" y="949" width="13.9" height="20.6"/><rect x="1524.1" y="968.8" width="13.9" height="21"/><rect x="1541.7" y="988.2" width="13.9" height="5.5"/><rect x="1559.2" y="992" width="13.9" height="33.5"/><rect x="1576.8" y="1024.1" width="13.9" height="6.5"/><rect x="1594.3" y="1030" width="13.9" height="41.6"/><rect x="1611.9" y="1071.2" width="13.9" height="6.5"/><rect x="1629.4" y="1076" width="13.9" height="13.7"/><rect x="1699.6" y="993" width="13.9" height="18.8"/><rect x="1734.7" y="974.1" width="13.9" height="10.7"/><rect x="1752.2" y="983.1" width="13.9" height="4.6"/><rect x="1769.7" y="987.2" width="13.9" height="13.5"/><rect x="1822.4" y="985.2" width="13.9" height="1.6"/><rect x="1839.9" y="987.2" width="13.9" height="12.5"/><rect x="1857.5" y="998.1" width="13.9" height="1.6"/><rect x="1892.5" y="991" width="13.9" height="1.6"/><rect x="1980.2" y="951.1" width="13.9" height="34.5"/><rect x="1997.8" y="985.2" width="13.9" height="4.4"/><rect x="2015.3" y="989.3" width="13.9" height="15.3"/><rect x="2032.9" y="1004.2" width="13.9" height="6.5"/><rect x="2050.4" y="1009.3" width="13.9" height="12.5"/><rect x="2085.5" y="1020.2" width="13.9" height="4.4"/><rect x="2103" y="1024.2" width="13.9" height="15.5"/><rect x="2138.1" y="1026.2" width="13.9" height="22.4"/><rect x="2155.7" y="1048.2" width="13.9" height="18.4"/><rect x="2313.6" y="872.2" width="13.9" height="15.5"/><rect x="2331.1" y="886.1" width="13.9" height="23.8"/><rect x="2418.8" y="853.2" width="13.9" height="12.7"/><rect x="2471.4" y="852.2" width="13.9" height="5.7"/><rect x="2489" y="855.2" width="13.9" height="10.7"/><rect x="2594.2" y="654.2" width="13.9" height="76.5"/><rect x="2611.8" y="730.3" width="13.9" height="31.5"/><rect x="2629.3" y="761.2" width="13.9" height="16.6"/><rect x="2664.4" y="744" width="13.9" height="24.8"/><rect x="2734.6" y="758.1" width="13.9" height="35.9"/><rect x="2752.1" y="793.1" width="13.9" height="22.8"/><rect x="2787.2" y="784.2" width="13.9" height="8.9"/><rect x="2804.7" y="792" width="13.9" height="24.6"/><rect x="2874.9" y="737.1" width="13.9" height="13.5"/><rect x="2980.2" y="401.1" width="13.9" height="37.5"/><rect x="3015.3" y="355" width="13.9" height="97.6"/><rect x="3067.9" y="385.1" width="13.9" height="31.5"/></g>
<g fill="#9094a0"><rect x="805" y="847.6" width="13.8" height="2"/><rect x="1120.7" y="971.2" width="13.8" height="2"/><rect x="1190.9" y="984.5" width="13.8" height="3"/><rect x="1208.4" y="982.3" width="13.8" height="2"/><rect x="1506.6" y="968" width="13.8" height="2"/><rect x="1804.9" y="986.2" width="13.8" height="2"/><rect x="1962.8" y="951.1" width="13.8" height="2"/><rect x="2068" y="1019.2" width="13.8" height="2"/><rect x="2699.5" y="759.3" width="13.8" height="3"/><rect x="2717.1" y="757.3" width="13.8" height="2"/><rect x="3050.4" y="379.3" width="13.8" height="2"/></g>
<path d="M25 292.9H3298" stroke="#0d9a8c" stroke-width="2.1" stroke-dasharray="2.1 3.9"/>
<path d="M3449 67V1587" stroke="#4c4c4c" stroke-width="2"/>
<path d="M25 1517.9H3603" stroke="#4c4c4c" stroke-width="2"/>
<g class="ax">
<text x="3470" y="181.7" textLength="84" lengthAdjust="spacingAndGlyphs">0.3200</text>
<text x="3470" y="255.8" textLength="84" lengthAdjust="spacingAndGlyphs">0.3000</text>
<text x="3470" y="404.1" textLength="84" lengthAdjust="spacingAndGlyphs">0.2600</text>
<text x="3470" y="478.3" textLength="84" lengthAdjust="spacingAndGlyphs">0.2400</text>
<text x="3470" y="552.4" textLength="84" lengthAdjust="spacingAndGlyphs">0.2200</text>
<text x="3470" y="626.6" textLength="84" lengthAdjust="spacingAndGlyphs">0.2000</text>
<text x="3470" y="700.7" textLength="84" lengthAdjust="spacingAndGlyphs">0.1800</text>
<text x="3470" y="774.9" textLength="84" lengthAdjust="spacingAndGlyphs">0.1600</text>
<text x="3470" y="849.0" textLength="84" lengthAdjust="spacingAndGlyphs">0.1400</text>
<text x="3470" y="923.2" textLength="84" lengthAdjust="spacingAndGlyphs">0.1200</text>
<text x="3470" y="997.3" textLength="84" lengthAdjust="spacingAndGlyphs">0.1000</text>
<text x="3470" y="1071.5" textLength="84" lengthAdjust="spacingAndGlyphs">0.0800</text>
<text x="3470" y="1145.6" textLength="84" lengthAdjust="spacingAndGlyphs">0.0600</text>
<text x="3470" y="1219.8" textLength="84" lengthAdjust="spacingAndGlyphs">0.0400</text>
<text x="3470" y="1293.9" textLength="84" lengthAdjust="spacingAndGlyphs">0.0200</text>
<text x="3470.4" y="1357.3" textLength="68" lengthAdjust="spacingAndGlyphs">75.00</text>
<text x="3470.4" y="1495.5" textLength="68" lengthAdjust="spacingAndGlyphs">25.00</text>
</g>
<rect x="3458" y="77" width="134.5" height="64" rx="9" fill="#fff" stroke="#e6e8ef" stroke-width="2"/>
<text x="3481.5" y="118.5" font-size="26" fill="#131722" stroke="#131722" stroke-width="0.4" textLength="62.5" lengthAdjust="spacingAndGlyphs">USDT</text>
<path d="M3304 273.2H3449V312.8H3304a4 4 0 0 1-4-4V277.2a4 4 0 0 1 4-4z" fill="#26a69a"/>
<path d="M3449 273.2H3587a4 4 0 0 1 4 4V340.6a4 4 0 0 1-4 4H3449z" fill="#26a69a"/>
<path d="M3449 273.2V344.6" stroke="#4c4c4c" stroke-width="2"/>
<text x="3308" y="302.5" font-size="27.5" fill="#fff" stroke="#fff" stroke-width="0.4" textLength="130" lengthAdjust="spacingAndGlyphs">CHEXUSDT</text>
<text x="3470" y="302.5" font-size="27" fill="#fff" stroke="#fff" stroke-width="0.4" textLength="84" lengthAdjust="spacingAndGlyphs">0.2874</text>
<text x="3471.5" y="334" font-size="27" fill="#fff" fill-opacity="0.72" textLength="97.5" lengthAdjust="spacingAndGlyphs">11:26:00</text>
<g font-size="26" fill="#4d4d4d" stroke="#4d4d4d" stroke-width="0.4" text-anchor="middle">
<clipPath id="tc"><rect x="25" y="1520" width="3423" height="66"/></clipPath>
<g clip-path="url(#tc)">
<text x="461.0" y="1562" font-weight="bold" textLength="50" lengthAdjust="spacingAndGlyphs">Jun</text>
<text x="741.7" y="1562" textLength="29" lengthAdjust="spacingAndGlyphs">17</text>
<text x="987.3" y="1562" font-weight="bold" textLength="41.5" lengthAdjust="spacingAndGlyphs">Jul</text>
<text x="1232.9" y="1562" textLength="29" lengthAdjust="spacingAndGlyphs">15</text>
<text x="1531.1" y="1562" font-weight="bold" textLength="53" lengthAdjust="spacingAndGlyphs">Aug</text>
<text x="1724.1" y="1562" textLength="29" lengthAdjust="spacingAndGlyphs">12</text>
<text x="2074.9" y="1562" font-weight="bold" textLength="49.5" lengthAdjust="spacingAndGlyphs">Sep</text>
<text x="2338.0" y="1562" textLength="29" lengthAdjust="spacingAndGlyphs">16</text>
<text x="2601.2" y="1562" font-weight="bold" textLength="49" lengthAdjust="spacingAndGlyphs">Oct</text>
<text x="2829.2" y="1562" textLength="29" lengthAdjust="spacingAndGlyphs">14</text>
<text x="3145.0" y="1562" font-weight="bold" textLength="50.5" lengthAdjust="spacingAndGlyphs">Nov</text>
<text x="3443.2" y="1562" textLength="29" lengthAdjust="spacingAndGlyphs">18</text>
</g></g>
<g font-size="29" stroke-width="0.45">
<text x="44.8" y="116" fill="#4d4d4d" stroke="#4d4d4d" textLength="206.0" lengthAdjust="spacingAndGlyphs">Chintai/Tether,</text>
<text x="261.4" y="116" fill="#4d4d4d" stroke="#4d4d4d" textLength="40.4" lengthAdjust="spacingAndGlyphs">1D,</text>
<text x="314.4" y="116" fill="#4d4d4d" stroke="#4d4d4d" textLength="94.6" lengthAdjust="spacingAndGlyphs">GATEIO</text>
<text x="432.2" y="116" fill="#4d4d4d" stroke="#4d4d4d" textLength="22.9" lengthAdjust="spacingAndGlyphs">O</text>
<text x="454.8" y="116" fill="#9a9da8" stroke="#9a9da8" textLength="85.0" lengthAdjust="spacingAndGlyphs">0.2542</text>
<text x="560.4" y="116" fill="#4d4d4d" stroke="#4d4d4d" textLength="19.9" lengthAdjust="spacingAndGlyphs">H</text>
<text x="579.8" y="116" fill="#9a9da8" stroke="#9a9da8" textLength="86.0" lengthAdjust="spacingAndGlyphs">0.3020</text>
<text x="685.5" y="116" fill="#4d4d4d" stroke="#4d4d4d" textLength="14.8" lengthAdjust="spacingAndGlyphs">L</text>
<text x="699.8" y="116" fill="#9a9da8" stroke="#9a9da8" textLength="86.2" lengthAdjust="spacingAndGlyphs">0.2538</text>
<text x="805.2" y="116" fill="#4d4d4d" stroke="#4d4d4d" textLength="17.1" lengthAdjust="spacingAndGlyphs">C</text>
<text x="822.0" y="116" fill="#9a9da8" stroke="#9a9da8" textLength="87.0" lengthAdjust="spacingAndGlyphs">0.2874</text>
<text x="927.8" y="116" fill="#9a9da8" stroke="#9a9da8" textLength="232.7" lengthAdjust="spacingAndGlyphs">+0.0333 (+13.11%)</text>
<text x="45.2" y="158" fill="#4d4d4d" stroke="#4d4d4d" textLength="42.0" lengthAdjust="spacingAndGlyphs">Vol</text>
<text x="97.0" y="158" fill="#4d4d4d" stroke="#4d4d4d" textLength="8.4" lengthAdjust="spacingAndGlyphs">·</text>
<text x="115.5" y="158" fill="#4d4d4d" stroke="#4d4d4d" textLength="69.5" lengthAdjust="spacingAndGlyphs">CHEX</text>
<text x="205.0" y="158" fill="#26a69a" stroke="#26a69a" textLength="99.6" lengthAdjust="spacingAndGlyphs">239.592</text>
<text x="311.2" y="158" fill="#26a69a" stroke="#26a69a" textLength="16.9" lengthAdjust="spacingAndGlyphs">K</text>
<text x="45.2" y="200.3" fill="#4d4d4d" stroke="#4d4d4d" textLength="58.3" lengthAdjust="spacingAndGlyphs">EMA</text>
<text x="112.8" y="200.3" fill="#4d4d4d" stroke="#4d4d4d" textLength="195.0" lengthAdjust="spacingAndGlyphs">20/50/100/200</text>
<text x="327.2" y="200.3" fill="#ff0b1a" stroke="#ff0b1a" textLength="85.4" lengthAdjust="spacingAndGlyphs">0.2213</text>
<text x="432.2" y="200.3" fill="#ff8000" stroke="#ff8000" textLength="85.9" lengthAdjust="spacingAndGlyphs">0.1799</text>
<text x="537.2" y="200.3" fill="#00eeff" stroke="#00eeff" textLength="86.4" lengthAdjust="spacingAndGlyphs">0.1574</text>
<text x="46.1" y="1357.3" fill="#4d4d4d" stroke="#4d4d4d" textLength="38.3" lengthAdjust="spacingAndGlyphs">RSI</text>
<text x="96.7" y="1357.3" fill="#4d4d4d" stroke="#4d4d4d" textLength="48.8" lengthAdjust="spacingAndGlyphs">(14,</text>
<text x="155.0" y="1357.3" fill="#4d4d4d" stroke="#4d4d4d" textLength="80.8" lengthAdjust="spacingAndGlyphs">close,</text>
<text x="246.8" y="1357.3" fill="#4d4d4d" stroke="#4d4d4d" textLength="68.0" lengthAdjust="spacingAndGlyphs">SMA,</text>
<text x="325.6" y="1357.3" fill="#4d4d4d" stroke="#4d4d4d" textLength="39.4" lengthAdjust="spacingAndGlyphs">14,</text>
<text x="373.8" y="1357.3" fill="#4d4d4d" stroke="#4d4d4d" textLength="26.1" lengthAdjust="spacingAndGlyphs">2)</text>
<text x="420.2" y="1357.3" fill="#7e57c2" stroke="#7e57c2" textLength="70.6" lengthAdjust="spacingAndGlyphs">73.19</text>
<text x="510.2" y="1357.3" fill="#fde83b" stroke="#fde83b" textLength="70.3" lengthAdjust="spacingAndGlyphs">70.72</text>
</g>
<g font-size="33" fill="#4d4d4d" text-anchor="middle"><text x="657.3" y="200.8">∅</text><text x="614" y="1357.5">∅</text><text x="663" y="1357.5">∅</text><text x="712" y="1357.5">∅</text><text x="760.7" y="1357.5">∅</text><text x="809.7" y="1357.5">∅</text><text x="858.6" y="1357.5">∅</text></g>
<g fill="#131722"><path d="M25.6 1617.3H45V1641.8H35.4V1626.9H25.6z"/><circle cx="52.8" cy="1622.6" r="5"/><path d="M62.1 1617.3H73.3L64 1641.8H53.1z"/>
<text x="83" y="1643.4" font-size="32" stroke="#131722" stroke-width="0.5" textLength="175.5" lengthAdjust="spacingAndGlyphs">TradingView</text></g>
</svg></body></html>
